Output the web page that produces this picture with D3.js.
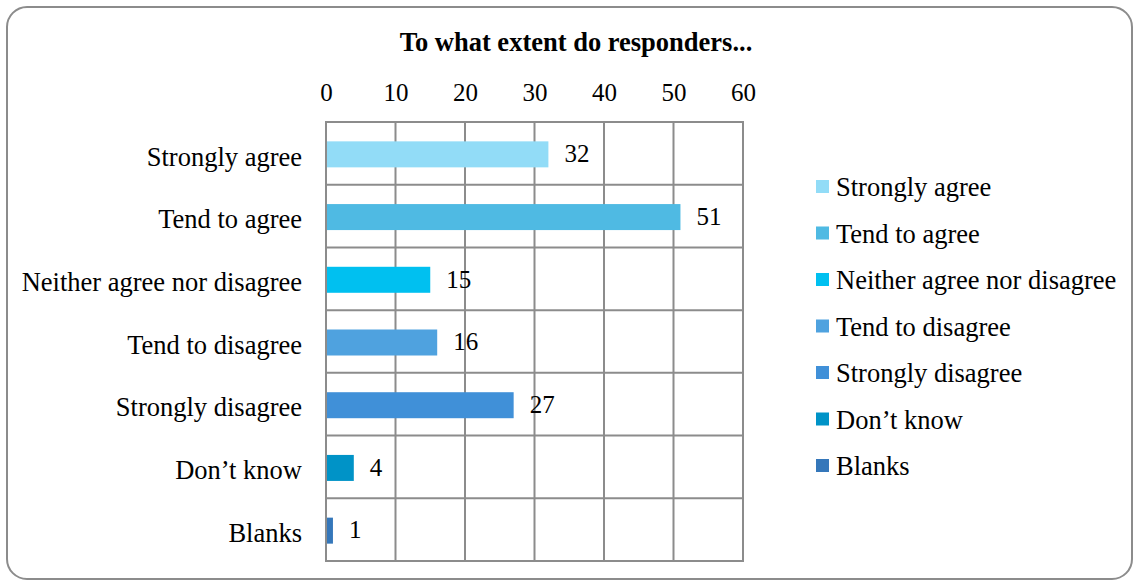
<!DOCTYPE html>
<html>
<head>
<meta charset="utf-8">
<script src="https://cdn.jsdelivr.net/npm/d3@7"></script>
<style>
  body { margin: 0; background: #fff; }
  svg text { font-family: "Liberation Serif", "Times New Roman", serif; fill: #000; }
</style>
</head>
<body>
<div id="chart-area"></div>
<script>
const categories = ['Strongly agree', 'Tend to agree', 'Neither agree nor disagree',
  'Tend to disagree', 'Strongly disagree', 'Don\u2019t know', 'Blanks'];
const values = [32, 51, 15, 16, 27, 4, 1];
const colors = ['#92dcf7', '#4fbae3', '#00c0f0', '#4fa2df', '#4090d8', '#0093c7', '#3577ba'];
const xTicks = [0, 10, 20, 30, 40, 50, 60];

const WIDTH = 1136, HEIGHT = 586;
const MARGINS = { top: 122, left: 326, right: 393, bottom: 25 };
const CHART_WIDTH = WIDTH - MARGINS.left - MARGINS.right;
const CHART_HEIGHT = HEIGHT - MARGINS.top - MARGINS.bottom;
const LABEL_SIZE = '26.5px';
const NUM_SIZE = '25px';

const svg = d3.select('#chart-area').append('svg')
  .attr('width', WIDTH)
  .attr('height', HEIGHT);

// card border
svg.append('rect')
  .attr('x', 7).attr('y', 7)
  .attr('width', 1125).attr('height', 572)
  .attr('rx', 20).attr('ry', 20)
  .attr('fill', '#fff')
  .attr('stroke', '#8c8c8c')
  .attr('stroke-width', 2);

svg.append('text')
  .attr('x', 576).attr('y', 51)
  .attr('text-anchor', 'middle')
  .attr('font-size', LABEL_SIZE)
  .attr('font-weight', 'bold')
  .text('To what extent do responders...');

const g = svg.append('g')
  .attr('transform', `translate(${MARGINS.left}, ${MARGINS.top})`);

const xScale = d3.scaleLinear().domain([0, 60]).range([0, CHART_WIDTH]);
const yScale = d3.scaleBand().domain(categories).range([0, CHART_HEIGHT]).paddingInner(0).paddingOuter(0);

// grid
g.selectAll('.vgrid').data(xTicks).enter().append('line')
  .attr('class', 'vgrid')
  .attr('x1', d => xScale(d)).attr('x2', d => xScale(d))
  .attr('y1', 0).attr('y2', CHART_HEIGHT)
  .attr('stroke', '#8c8c8c').attr('stroke-width', 2);

const rowEdges = categories.map(c => yScale(c)).concat([CHART_HEIGHT]);
g.selectAll('.hgrid').data(rowEdges).enter().append('line')
  .attr('class', 'hgrid')
  .attr('x1', -1).attr('x2', CHART_WIDTH + 1)
  .attr('y1', d => d).attr('y2', d => d)
  .attr('stroke', '#8c8c8c').attr('stroke-width', 2);

// top axis
const xAxisCall = d3.axisTop(xScale).tickValues(xTicks).tickSize(0).tickPadding(0);
const xAxis = g.append('g')
  .attr('transform', 'translate(0, -21)')
  .call(xAxisCall);
xAxis.select('.domain').remove();
xAxis.selectAll('text').attr('font-size', NUM_SIZE)
  .style('font-family', '"Liberation Serif", serif');

// y labels
const yAxisCall = d3.axisLeft(yScale).tickSize(0).tickPadding(24);
const yAxis = g.append('g').call(yAxisCall);
yAxis.select('.domain').remove();
yAxis.selectAll('text').attr('font-size', LABEL_SIZE).attr('dy', '0.46em')
  .style('font-family', '"Liberation Serif", serif');

const barH = 26;
const data = categories.map((c, i) => ({ cat: c, value: values[i], color: colors[i] }));

g.selectAll('.bar').data(data).enter().append('rect')
  .attr('class', 'bar')
  .attr('x', 1)
  .attr('y', d => yScale(d.cat) + yScale.bandwidth() / 2 - barH / 2 + 1)
  .attr('width', d => xScale(d.value) - 1)
  .attr('height', barH)
  .attr('fill', d => d.color);

g.selectAll('.val').data(data).enter().append('text')
  .attr('class', 'val')
  .attr('x', d => xScale(d.value) + 16)
  .attr('y', d => yScale(d.cat) + yScale.bandwidth() / 2)
  .attr('dy', '0.35em')
  .attr('font-size', NUM_SIZE)
  .text(d => d.value);

// legend
const legend = svg.append('g').attr('transform', 'translate(816, 187)');
data.forEach((d, i) => {
  const row = legend.append('g').attr('transform', `translate(0, ${i * 46.5})`);
  row.append('rect')
    .attr('x', 0).attr('y', -7)
    .attr('width', 13).attr('height', 13)
    .attr('fill', d.color);
  row.append('text')
    .attr('x', 20).attr('y', 0)
    .attr('dy', '0.35em')
    .attr('font-size', LABEL_SIZE)
    .text(d.cat);
});
</script>
</body>
</html>
